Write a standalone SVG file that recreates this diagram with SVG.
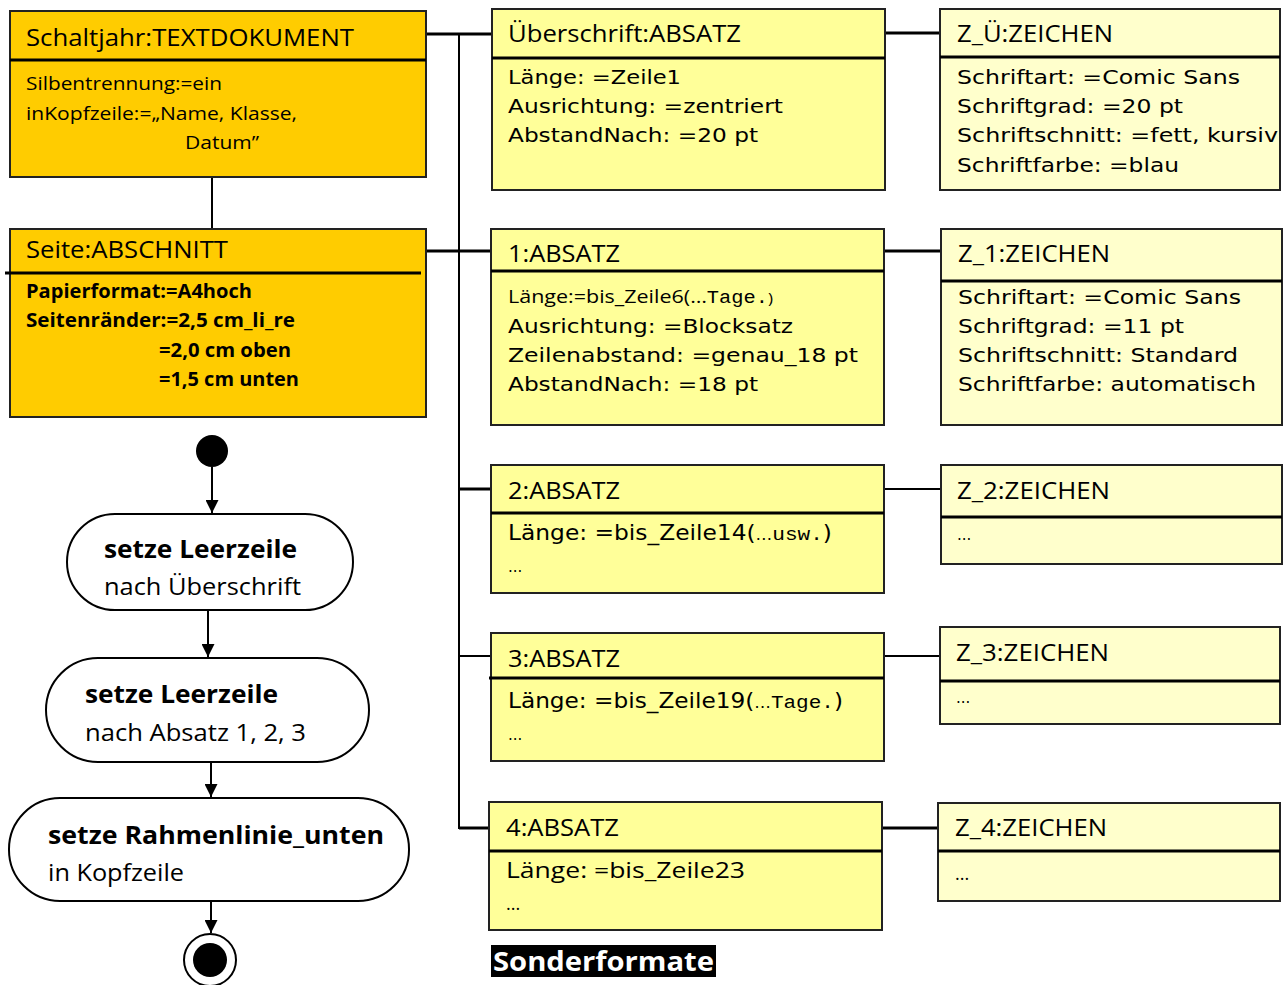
<svg xmlns="http://www.w3.org/2000/svg" width="1286" height="985" viewBox="0 0 1286 985">
<style>
.c{font-family:"Open Sans","Liberation Sans",sans-serif;fill:#000}
.v{font-family:"DejaVu Sans","Liberation Sans",sans-serif;fill:#000}
.m{font-family:"Liberation Mono",monospace}
.b{font-weight:bold}
.box{stroke:#222;stroke-width:2}
.gold{fill:#FFCC00}
.y1{fill:#FFFF99}
.y2{fill:#FFFFCC}
.div{stroke:#000;stroke-width:3}
.ln{stroke:#000;fill:none}
.act{fill:#fff;stroke:#000;stroke-width:2}
</style>
<defs>
<marker id="ah" viewBox="0 0 10 10" refX="10" refY="5" markerWidth="13" markerHeight="13" markerUnits="userSpaceOnUse" orient="auto">
<path d="M0,0 L10,5 L0,10 z" fill="#000"/>
</marker>
</defs>
<rect width="1286" height="985" fill="#fff"/>
<g id="connectors">
<line class="ln" stroke-width="3" x1="426" y1="34" x2="491" y2="34"/>
<line class="ln" stroke-width="2" x1="459" y1="34" x2="459" y2="829"/>
<line class="ln" stroke-width="2" x1="212" y1="177" x2="212" y2="229"/>
<line class="ln" stroke-width="3" x1="426" y1="251" x2="491" y2="251"/>
<line class="ln" stroke-width="3" x1="459" y1="489" x2="491" y2="489"/>
<line class="ln" stroke-width="2" x1="459" y1="656" x2="491" y2="656"/>
<line class="ln" stroke-width="3" x1="459" y1="828" x2="489" y2="828"/>
<line class="ln" stroke-width="3" x1="885" y1="33" x2="940" y2="33"/>
<line class="ln" stroke-width="3" x1="884" y1="251" x2="941" y2="251"/>
<line class="ln" stroke-width="2" x1="884" y1="489" x2="941" y2="489"/>
<line class="ln" stroke-width="2" x1="884" y1="656" x2="940" y2="656"/>
<line class="ln" stroke-width="3" x1="882" y1="828" x2="938" y2="828"/>
<line class="ln" stroke-width="2" x1="212" y1="467" x2="212" y2="513" marker-end="url(#ah)"/>
<line class="ln" stroke-width="2" x1="208" y1="610" x2="208" y2="657" marker-end="url(#ah)"/>
<line class="ln" stroke-width="2" x1="211" y1="750" x2="211" y2="797" marker-end="url(#ah)"/>
<line class="ln" stroke-width="2" x1="211" y1="901" x2="211" y2="933" marker-end="url(#ah)"/>
</g>
<g id="textdokument">
<rect class="box gold" x="10" y="11" width="416" height="166"/>
<line class="div" x1="10" y1="60" x2="426" y2="60"/>
<text class="c" x="26" y="46" font-size="24" textLength="328" lengthAdjust="spacingAndGlyphs">Schaltjahr:TEXTDOKUMENT</text>
<text class="c" x="26" y="90" font-size="19" textLength="196" lengthAdjust="spacingAndGlyphs">Silbentrennung:=ein</text>
<text class="c" x="26" y="120" font-size="19" textLength="271" lengthAdjust="spacingAndGlyphs">inKopfzeile:=„Name, Klasse,</text>
<text class="c" x="185" y="149" font-size="19" textLength="74" lengthAdjust="spacingAndGlyphs">Datum”</text>
</g>
<g id="abschnitt">
<rect class="box gold" x="10" y="229" width="416" height="188"/>
<line class="div" x1="5" y1="273" x2="421" y2="273"/>
<text class="c" x="26" y="258" font-size="24" textLength="202" lengthAdjust="spacingAndGlyphs">Seite:ABSCHNITT</text>
<text class="c b" x="26" y="298" font-size="19" textLength="226" lengthAdjust="spacingAndGlyphs">Papierformat:=A4hoch</text>
<text class="c b" x="26" y="327" font-size="19" textLength="269" lengthAdjust="spacingAndGlyphs">Seitenränder:=2,5 cm_li_re</text>
<text class="c b" x="159" y="357" font-size="19" textLength="132" lengthAdjust="spacingAndGlyphs">=2,0 cm oben</text>
<text class="c b" x="159" y="386" font-size="19" textLength="140" lengthAdjust="spacingAndGlyphs">=1,5 cm unten</text>
</g>
<g id="ueberschrift">
<rect class="box y1" x="492" y="9" width="393" height="181"/>
<line class="div" x1="492" y1="58" x2="885" y2="58"/>
<text class="c" x="508" y="42" font-size="23" textLength="233" lengthAdjust="spacingAndGlyphs">Überschrift:ABSATZ</text>
<text class="v" x="508" y="84" font-size="20" textLength="173" lengthAdjust="spacingAndGlyphs">Länge: =Zeile1</text>
<text class="v" x="508" y="113" font-size="20" textLength="275" lengthAdjust="spacingAndGlyphs">Ausrichtung: =zentriert</text>
<text class="v" x="508" y="142" font-size="20" textLength="250" lengthAdjust="spacingAndGlyphs">AbstandNach: =20 pt</text>
</g>
<g id="z_ue">
<rect class="box y2" x="940" y="9" width="340" height="181"/>
<line class="div" x1="940" y1="57" x2="1280" y2="57"/>
<text class="c" x="957" y="42" font-size="23" textLength="156" lengthAdjust="spacingAndGlyphs">Z_Ü:ZEICHEN</text>
<text class="v" x="957" y="84" font-size="20" textLength="283" lengthAdjust="spacingAndGlyphs">Schriftart: =Comic Sans</text>
<text class="v" x="957" y="113" font-size="20" textLength="226" lengthAdjust="spacingAndGlyphs">Schriftgrad: =20 pt</text>
<text class="v" x="957" y="142" font-size="20" textLength="321" lengthAdjust="spacingAndGlyphs">Schriftschnitt: =fett, kursiv</text>
<text class="v" x="957" y="172" font-size="20" textLength="222" lengthAdjust="spacingAndGlyphs">Schriftfarbe: =blau</text>
</g>
<g id="absatz1">
<rect class="box y1" x="491" y="229" width="393" height="196"/>
<line class="div" x1="491" y1="271" x2="884" y2="271"/>
<text class="c" x="508" y="262" font-size="23" textLength="112" lengthAdjust="spacingAndGlyphs">1:ABSATZ</text>
<text class="c" x="508" y="303" font-size="19" textLength="265" lengthAdjust="spacingAndGlyphs">Länge:=bis_Zeile6(…<tspan class="m" font-size="18">Tage.</tspan><tspan font-size="15">)</tspan></text>
<text class="v" x="508" y="333" font-size="20" textLength="285" lengthAdjust="spacingAndGlyphs">Ausrichtung: =Blocksatz</text>
<text class="v" x="508" y="362" font-size="20" textLength="350" lengthAdjust="spacingAndGlyphs">Zeilenabstand: =genau_18 pt</text>
<text class="v" x="508" y="391" font-size="20" textLength="250" lengthAdjust="spacingAndGlyphs">AbstandNach: =18 pt</text>
</g>
<g id="z_1">
<rect class="box y2" x="941" y="229" width="341" height="196"/>
<line class="div" x1="941" y1="281" x2="1282" y2="281"/>
<text class="c" x="958" y="262" font-size="23" textLength="152" lengthAdjust="spacingAndGlyphs">Z_1:ZEICHEN</text>
<text class="v" x="958" y="304" font-size="20" textLength="283" lengthAdjust="spacingAndGlyphs">Schriftart: =Comic Sans</text>
<text class="v" x="958" y="333" font-size="20" textLength="226" lengthAdjust="spacingAndGlyphs">Schriftgrad: =11 pt</text>
<text class="v" x="958" y="362" font-size="20" textLength="280" lengthAdjust="spacingAndGlyphs">Schriftschnitt: Standard</text>
<text class="v" x="958" y="391" font-size="20" textLength="298" lengthAdjust="spacingAndGlyphs">Schriftfarbe: automatisch</text>
</g>
<g id="absatz2">
<rect class="box y1" x="491" y="465" width="393" height="128"/>
<line class="div" x1="491" y1="513" x2="884" y2="513"/>
<text class="c" x="508" y="499" font-size="23" textLength="112" lengthAdjust="spacingAndGlyphs">2:ABSATZ</text>
<text class="v" x="508" y="540" font-size="21" textLength="324" lengthAdjust="spacingAndGlyphs">Länge: =bis_Zeile14(<tspan font-size="15">…</tspan><tspan class="m" font-size="19">usw.</tspan>)</text>
<text class="v" x="508" y="572" font-size="15">...</text>
</g>
<g id="z_2">
<rect class="box y2" x="941" y="465" width="341" height="99"/>
<line class="div" x1="941" y1="517" x2="1282" y2="517"/>
<text class="c" x="957" y="499" font-size="23" textLength="153" lengthAdjust="spacingAndGlyphs">Z_2:ZEICHEN</text>
<text class="v" x="957" y="540" font-size="15">...</text>
</g>
<g id="absatz3">
<rect class="box y1" x="491" y="633" width="393" height="128"/>
<line class="div" x1="489" y1="678" x2="884" y2="678"/>
<text class="c" x="508" y="667" font-size="23" textLength="112" lengthAdjust="spacingAndGlyphs">3:ABSATZ</text>
<text class="v" x="508" y="708" font-size="21" textLength="335" lengthAdjust="spacingAndGlyphs">Länge: =bis_Zeile19(<tspan font-size="15">…</tspan><tspan class="m" font-size="19">Tage.</tspan>)</text>
<text class="v" x="508" y="740" font-size="15">...</text>
</g>
<g id="z_3">
<rect class="box y2" x="940" y="627" width="340" height="97"/>
<line class="div" x1="940" y1="681" x2="1280" y2="681"/>
<text class="c" x="956" y="661" font-size="23" textLength="153" lengthAdjust="spacingAndGlyphs">Z_3:ZEICHEN</text>
<text class="v" x="956" y="703" font-size="15">...</text>
</g>
<g id="absatz4">
<rect class="box y1" x="489" y="802" width="393" height="128"/>
<line class="div" x1="489" y1="851" x2="882" y2="851"/>
<text class="c" x="506" y="836" font-size="23" textLength="113" lengthAdjust="spacingAndGlyphs">4:ABSATZ</text>
<text class="c" x="506" y="878" font-size="22" textLength="239" lengthAdjust="spacingAndGlyphs">Länge: =bis_Zeile23</text>
<text class="c" x="506" y="910" font-size="18">...</text>
</g>
<g id="z_4">
<rect class="box y2" x="938" y="803" width="342" height="98"/>
<line class="div" x1="938" y1="851" x2="1280" y2="851"/>
<text class="c" x="955" y="836" font-size="23" textLength="152" lengthAdjust="spacingAndGlyphs">Z_4:ZEICHEN</text>
<text class="c" x="955" y="880" font-size="18">...</text>
</g>
<g id="sonderformate">
<rect x="491" y="945" width="225" height="32" fill="#000"/>
<text class="c b" x="493" y="971" font-size="26" style="fill:#fff" textLength="221" lengthAdjust="spacingAndGlyphs">Sonderformate</text>
</g>
<g id="start">
<circle cx="212" cy="451" r="16" fill="#000"/>
</g>
<g id="action1">
<rect class="act" x="67" y="514" width="286" height="96" rx="48"/>
<text class="c b" x="104" y="558" font-size="25" textLength="193" lengthAdjust="spacingAndGlyphs">setze Leerzeile</text>
<text class="c" x="104" y="595" font-size="24" textLength="197" lengthAdjust="spacingAndGlyphs">nach Überschrift</text>
</g>
<g id="action2">
<rect class="act" x="46" y="658" width="323" height="104" rx="52"/>
<text class="c b" x="85" y="703" font-size="25" textLength="193" lengthAdjust="spacingAndGlyphs">setze Leerzeile</text>
<text class="c" x="85" y="741" font-size="24" textLength="221" lengthAdjust="spacingAndGlyphs">nach Absatz 1, 2, 3</text>
</g>
<g id="action3">
<rect class="act" x="9" y="798" width="400" height="103" rx="51"/>
<text class="c b" x="48" y="844" font-size="25" textLength="336" lengthAdjust="spacingAndGlyphs">setze Rahmenlinie_unten</text>
<text class="c" x="48" y="881" font-size="24" textLength="136" lengthAdjust="spacingAndGlyphs">in Kopfzeile</text>
</g>
<g id="end">
<circle cx="210" cy="960" r="26" fill="#fff" stroke="#000" stroke-width="2"/>
<circle cx="210" cy="960" r="17" fill="#000"/>
</g>
</svg>
